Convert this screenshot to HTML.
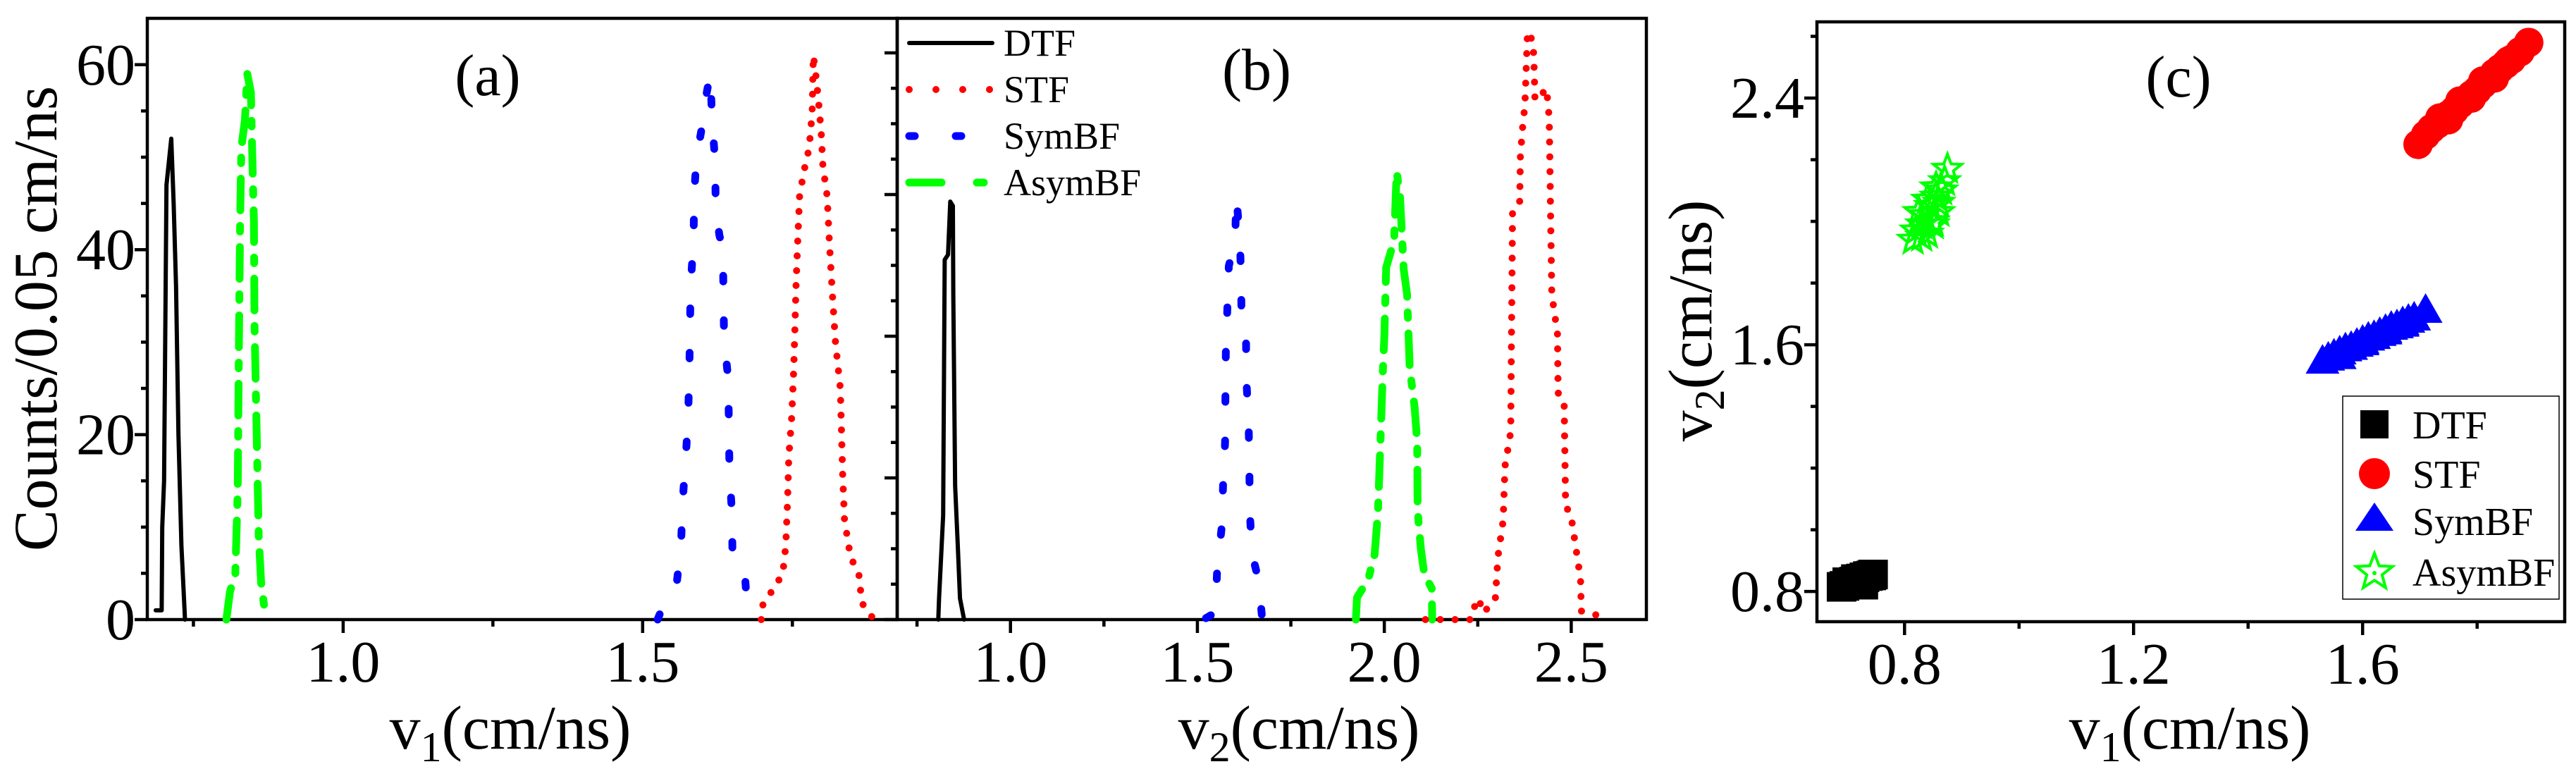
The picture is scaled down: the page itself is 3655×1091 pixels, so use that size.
<!DOCTYPE html>
<html><head><meta charset="utf-8"><style>
html,body{margin:0;padding:0;background:#fff;}
svg{display:block;font-family:"Liberation Serif","Times New Roman",serif;}
svg text, svg tspan{font-family:"Liberation Serif","Times New Roman",serif !important;fill:#000;}
</style></head><body>
<svg id="fig" width="3655" height="1091" viewBox="0 0 3655 1091" xmlns="http://www.w3.org/2000/svg" font-family="Liberation Serif, serif"></svg>
<script>
// ---------- data: panel (a) v1 histograms ----------
const aDtfV = [0.687,0.697,0.698,0.701,0.705,0.713,0.717,0.721,0.725,0.730,0.736];
const aDtfC = [1,1,10,15,47,52,45,36,20,8,0];
const aStfV = [1.698,1.700,1.725,1.734,1.739,1.742,1.744,1.749,1.752,1.754,1.756,1.759,1.762,1.769,1.778,1.783,1.785,1.788,1.793,1.798,1.801,1.808,1.812,1.817,1.822,1.830,1.832,1.834,1.837,1.847,1.861,1.866,1.886];
const aStfC = [0,1.5,4,5,8,13,17.6,22,26.7,31,36,41,45.8,48.4,51,54.8,61,59.6,56.5,52.8,49,45.8,40.5,35,29.9,25,20.3,15.5,10.8,6.8,4.9,1.8,0];
const aSymV = [1.525,1.534,1.557,1.564,1.567,1.572,1.576,1.578,1.579,1.580,1.585,1.586,1.590,1.600,1.607,1.613,1.616,1.621,1.622,1.628,1.634,1.635,1.636,1.643,1.644,1.645,1.649,1.650,1.670,1.675];
const aSymC = [0,1.5,4,8,13,17.5,22,27,31.5,36,41,46,50,53.6,57,59,54,49.6,44.7,41.6,40,35,30.3,26,21,16,11.7,7,5.5,1];
const aAsymV = [0.805,0.811,0.820,0.824,0.826,0.828,0.830,0.836,0.840,0.846,0.848,0.851,0.852,0.856,0.859,0.863,0.869];
const aAsymC = [0,3,5,14,30,43,51,54,59,57,51,43,32,19,9,4,1];
// ---------- data: panel (b) v2 histograms ----------
const bDtfV = [0.807,0.809,0.820,0.824,0.833,0.839,0.846,0.847,0.852,0.859,0.865,0.876];
const bDtfC = [0,3,14.7,50.8,51.5,59,58.4,45.9,18.9,10.6,3,0];
const bStfV = [2.110,2.153,2.193,2.232,2.239,2.254,2.261,2.280,2.297,2.304,2.318,2.321,2.323,2.338,2.340,2.342,2.343,2.362,2.364,2.369,2.376,2.379,2.383,2.398,2.401,2.403,2.419,2.434,2.441,2.443,2.445,2.448,2.463,2.465,2.481,2.483,2.485,2.499,2.513,2.525,2.527,2.556,2.585];
const bStfC = [0,0,0,0,1.6,3,1,1.7,3,8.9,14,18.9,21.7,26.5,39,51.5,57.7,59,65.3,69,72.6,77,83,81.6,77.4,73.3,74,75,70.8,64.6,56.3,45.9,40.4,32,30.7,23,16,14.8,9.9,5.7,1.2,0.9,0.2];
const bSymV = [1.523,1.548,1.553,1.565,1.569,1.574,1.575,1.576,1.580,1.584,1.601,1.604,1.613,1.617,1.618,1.630,1.631,1.637,1.639,1.640,1.646,1.663,1.673];
const bSymC = [0.2,1,7.3,13,19.3,25,31.5,37.9,43.8,49.9,53.5,59.8,54.2,48.3,42,40.4,33.9,27.9,21.7,15.4,9.3,5.7,0.3];
const bAsymV = [1.924,1.927,1.957,1.974,1.983,1.990,1.996,2.000,2.005,2.026,2.033,2.042,2.052,2.061,2.068,2.081,2.088,2.089,2.098,2.107,2.127,2.128];
const bAsymC = [0,3.1,5.7,9.2,15.1,25.8,34.8,40,49.7,53.5,63.2,59.8,49.4,45.9,35.5,30,25.1,15.4,9.9,6.4,4.4,0];
// ---------- data: panel (c) scatter ----------
const cDtfV1 = [0.695,0.700,0.705,0.712,0.718,0.724,0.730,0.736,0.742,0.700,0.715,0.728,0.690,0.745];
const cDtfV2 = [0.818,0.822,0.826,0.832,0.836,0.842,0.846,0.850,0.852,0.830,0.840,0.822,0.815,0.855];
const cStfV1 = [1.697,1.71,1.72,1.73,1.74,1.75,1.76,1.77,1.78,1.79,1.80,1.81,1.82,1.83,1.84,1.85,1.86,1.875,1.890,1.75,1.79,1.83,1.77,1.81,1.735,1.855];
const cStfV2 = [2.250,2.280,2.300,2.315,2.330,2.345,2.360,2.380,2.395,2.410,2.425,2.445,2.460,2.480,2.495,2.510,2.525,2.550,2.580,2.330,2.400,2.465,2.390,2.455,2.335,2.520];
const cSymV1 = [1.53,1.54,1.55,1.56,1.57,1.58,1.59,1.60,1.61,1.62,1.63,1.64,1.65,1.66,1.67,1.68,1.69,1.71,1.56,1.60,1.64,1.67];
const cSymV2 = [1.545,1.555,1.565,1.575,1.585,1.590,1.60,1.61,1.62,1.625,1.635,1.645,1.655,1.66,1.67,1.678,1.685,1.71,1.56,1.605,1.64,1.665];
const cAsymV1 = [0.815,0.82,0.83,0.835,0.84,0.845,0.85,0.855,0.86,0.865,0.87,0.875,0.825,0.84,0.855,0.86,0.83,0.85];
const cAsymV2 = [1.94,1.97,1.99,2.02,1.96,2.05,2.00,2.08,2.03,2.10,2.13,2.17,2.03,2.07,2.11,2.06,1.95,1.99];
// ticks
const aXMajor = [1.0,1.5]; const aXMinor = [0.75,1.25,1.75];
const aYTicks = [0,5,10,15,20,25,30,35,40,45,50,55,60]; const aYLabels = [0,20,40,60];
const bXMajor = [1.0,1.5,2.0,2.5]; const bXMinor = [0.75,1.25,1.75,2.25];
const bYTicks = [0,5,10,15,20,25,30,35,40,45,50,55,60,65,70,75,80]; const bYMajor=[0,20,40,60,80];
const cXMajor = [0.8,1.2,1.6]; const cXMinor = [1.0,1.4,1.8];
const cYTicks = [0.8,1.0,1.2,1.4,1.6,1.8,2.0,2.2,2.4,2.6]; const cYMajor=[0.8,1.6,2.4];

const NS="http://www.w3.org/2000/svg";
const svg=document.getElementById('fig');
const FF='"Liberation Serif", serif';
function mk(tag,attrs,parent){const e=document.createElementNS(NS,tag);for(const k in attrs)e.setAttribute(k,attrs[k]);if(tag==='text'){e.setAttribute('font-family','Liberation Serif, serif');e.style.fontFamily=FF;}(parent||svg).appendChild(e);return e;}

const A={x0:209,x1:1273,vmin:0.673,vmax:1.925,yb:879,yt:26,ppc:13.12};
const B={x0:1273,x1:2336,vmin:0.697,vmax:2.701,yb:879,yt:26,ppc:10.05};
const C={x0:2578,x1:3639,vmin:0.647,vmax:1.953,yb:882,yt:31,wmin:0.702,wmax:2.647};
function px(P,v){return P.x0+(v-P.vmin)/(P.vmax-P.vmin)*(P.x1-P.x0);}
function pyC(P,c){return P.yb-c*P.ppc;}
function cy(v){return C.yb-(v-C.wmin)/(C.wmax-C.wmin)*(C.yb-C.yt);}
const SW=4.5;
function frame(P,name){
  const r=mk('rect',{x:P.x0,y:P.yt,width:P.x1-P.x0,height:P.yb-P.yt,fill:'none',stroke:'#000','stroke-width':SW});
  
  
}
function xticks(P,maj,min,name){
  const g=mk('g',{});
  
  
  maj.forEach(v=>{const x=px(P,v);mk('line',{x1:x,x2:x,y1:P.yb,y2:P.yb+19,stroke:'#000','stroke-width':SW},g);
    const t=mk('text',{x:x,y:P.yb+88,'font-size':84,'text-anchor':'middle'},g);t.textContent=v.toFixed(1);
    
    });
  min.forEach(v=>{const x=px(P,v);mk('line',{x1:x,x2:x,y1:P.yb,y2:P.yb+10,stroke:'#000','stroke-width':SW},g);});
}
function line(P,vs,cs,color,w,dash,name){
  let d='';vs.forEach((v,i)=>{d+=(i?'L':'M')+px(P,v).toFixed(1)+' '+pyC(P,cs[i]).toFixed(1);});
  const p=mk('path',{d:d,fill:'none',stroke:color,'stroke-width':w,'stroke-linecap':'round','stroke-linejoin':'round'});
  if(dash)p.setAttribute('stroke-dasharray',dash);
  
  
}
const DOT='0 21', SYM='8 55', ASYM='45 22 8 22';

// ===== Panel (a) =====
frame(A,'panel-a-frame');
xticks(A,aXMajor,aXMinor,'panel-a-x-axis');
const ay=mk('g',{});


aYTicks.forEach(c=>{const y=pyC(A,c);const maj=aYLabels.includes(c);mk('line',{x1:A.x0,x2:A.x0-(maj?18:9),y1:y,y2:y,stroke:'#000','stroke-width':SW},ay);
  if(maj){const t=mk('text',{x:192,y:y+28,'font-size':84,'text-anchor':'end'},ay);t.textContent=c;
  
  }});
line(A,aDtfV,aDtfC,'#000',6,null,'panel-a-dtf-line');
line(A,aAsymV,aAsymC,'#00ff00',11,ASYM,'panel-a-asymbf-line');
line(A,aSymV,aSymC,'#0000ff',11,SYM,'panel-a-symbf-line');
line(A,aStfV,aStfC,'#ff0000',10,DOT,'panel-a-stf-line');
let t;
t=mk('text',{x:692,y:135,'font-size':84,'text-anchor':'middle'});t.textContent='(a)';


t=mk('text',{x:0,y:0,'font-size':88,'text-anchor':'middle',transform:'translate(80,452) rotate(-90)'});t.textContent='Counts/0.05 cm/ns';


t=mk('text',{x:724,y:1062,'font-size':88,'text-anchor':'middle'});
t.innerHTML='v<tspan font-size="60" dy="18">1</tspan><tspan dy="-18">(cm/ns)</tspan>';



// ===== Panel (b) =====
frame(B,'panel-b-frame');
xticks(B,bXMajor,bXMinor,'panel-b-x-axis');
const by=mk('g',{});


bYTicks.forEach(c=>{const y=pyC(B,c);const maj=bYMajor.includes(c);mk('line',{x1:B.x0,x2:B.x0-(maj?18:9),y1:y,y2:y,stroke:'#000','stroke-width':SW},by);});
line(B,bDtfV,bDtfC,'#000',6,null,'panel-b-dtf-line');
line(B,bSymV,bSymC,'#0000ff',11,SYM,'panel-b-symbf-line');
line(B,bAsymV,bAsymC,'#00ff00',11,ASYM,'panel-b-asymbf-line');
line(B,bStfV,bStfC,'#ff0000',10,DOT,'panel-b-stf-line');
t=mk('text',{x:1783,y:127,'font-size':84,'text-anchor':'middle'});t.textContent='(b)';


t=mk('text',{x:1843,y:1062,'font-size':88,'text-anchor':'middle'});
t.innerHTML='v<tspan font-size="60" dy="18">2</tspan><tspan dy="-18">(cm/ns)</tspan>';


const lg=mk('g',{});


const legItems=[['DTF','#000',6,null],['STF','#ff0000',10,'0 38'],['SymBF','#0000ff',11,'8 58'],['AsymBF','#00ff00',11,'46 50 10 60']];
const legY=[61,127,193,259];
legItems.forEach((it,i)=>{const y=legY[i];
  const l=mk('line',{x1:1290,x2:1408,y1:y,y2:y,stroke:it[1],'stroke-width':it[2],'stroke-linecap':'round'},lg);
  if(it[3])l.setAttribute('stroke-dasharray',it[3]);
  const tt=mk('text',{x:1424,y:y+18,'font-size':54},lg);tt.textContent=it[0];
  
  });

// ===== Panel (c) =====
const cf=mk('rect',{x:C.x0,y:C.yt,width:C.x1-C.x0,height:C.yb-C.yt,fill:'none',stroke:'#000','stroke-width':SW});


xticks(C,cXMajor,cXMinor,'panel-c-x-axis');
const cyg=mk('g',{});


cYTicks.forEach(v=>{const y=cy(v);const maj=cYMajor.some(m=>Math.abs(m-v)<1e-6);mk('line',{x1:C.x0,x2:C.x0-(maj?18:9),y1:y,y2:y,stroke:'#000','stroke-width':SW},cyg);
  if(maj){const tt=mk('text',{x:2560,y:y+28,'font-size':84,'text-anchor':'end'},cyg);tt.textContent=v.toFixed(1);
  
  }});
function starPath(x,y,r){let d='';for(let k=0;k<10;k++){const a=-Math.PI/2+k*Math.PI/5;const rr=k%2?r*0.42:r;d+=(k?'L':'M')+(x+rr*Math.cos(a)).toFixed(1)+' '+(y+rr*Math.sin(a)).toFixed(1);}return d+'Z';}
const gD=mk('g',{fill:'#000'});


cDtfV1.forEach((v,i)=>{mk('rect',{x:px(C,v)-21,y:cy(cDtfV2[i])-21,width:42,height:42},gD);});
const gS=mk('g',{fill:'#ff0000'});


cStfV1.forEach((v,i)=>{mk('circle',{cx:px(C,v),cy:cy(cStfV2[i]),r:21},gS);});
const gT=mk('g',{fill:'#0000ff'});


cSymV1.forEach((v,i)=>{const x=px(C,v),y=cy(cSymV2[i]);mk('path',{d:`M${x} ${y-25}L${x+24} ${y+17}L${x-24} ${y+17}Z`},gT);});
const gA=mk('g',{fill:'none',stroke:'#00ff00','stroke-width':4});


cAsymV1.forEach((v,i)=>{mk('path',{d:starPath(px(C,v),cy(cAsymV2[i]),21)},gA);});
t=mk('text',{x:3091,y:137,'font-size':84,'text-anchor':'middle'});t.textContent='(c)';


t=mk('text',{x:3107,y:1062,'font-size':88,'text-anchor':'middle'});
t.innerHTML='v<tspan font-size="60" dy="18">1</tspan><tspan dy="-18">(cm/ns)</tspan>';


t=mk('text',{x:0,y:0,'font-size':88,'text-anchor':'middle',transform:'translate(2428,455) rotate(-90)'});
t.innerHTML='v<tspan font-size="60" dy="18">2</tspan><tspan dy="-18">(cm/ns)</tspan>';


const lc=mk('g',{});


mk('rect',{x:3324,y:562,width:307,height:288,fill:'#fff',stroke:'#000','stroke-width':1.5},lc);
const lcY=[602,672,739,811];
mk('rect',{x:3349,y:582,width:40,height:40,fill:'#000'},lc);
mk('circle',{cx:3369,cy:672,r:22,fill:'#ff0000'},lc);
mk('path',{d:'M3369 713L3396 753L3342 753Z',fill:'#0000ff'},lc);
mk('path',{d:starPath(3369,812,27),fill:'none',stroke:'#00ff00','stroke-width':4},lc);
mk('circle',{cx:3369,cy:813,r:3,fill:'#00ff00'},lc);
['DTF','STF','SymBF','AsymBF'].forEach((s,i)=>{const tt=mk('text',{x:3423,y:lcY[i]+20,'font-size':56},lc);tt.textContent=s;
  
  });
</script>
</body></html>
